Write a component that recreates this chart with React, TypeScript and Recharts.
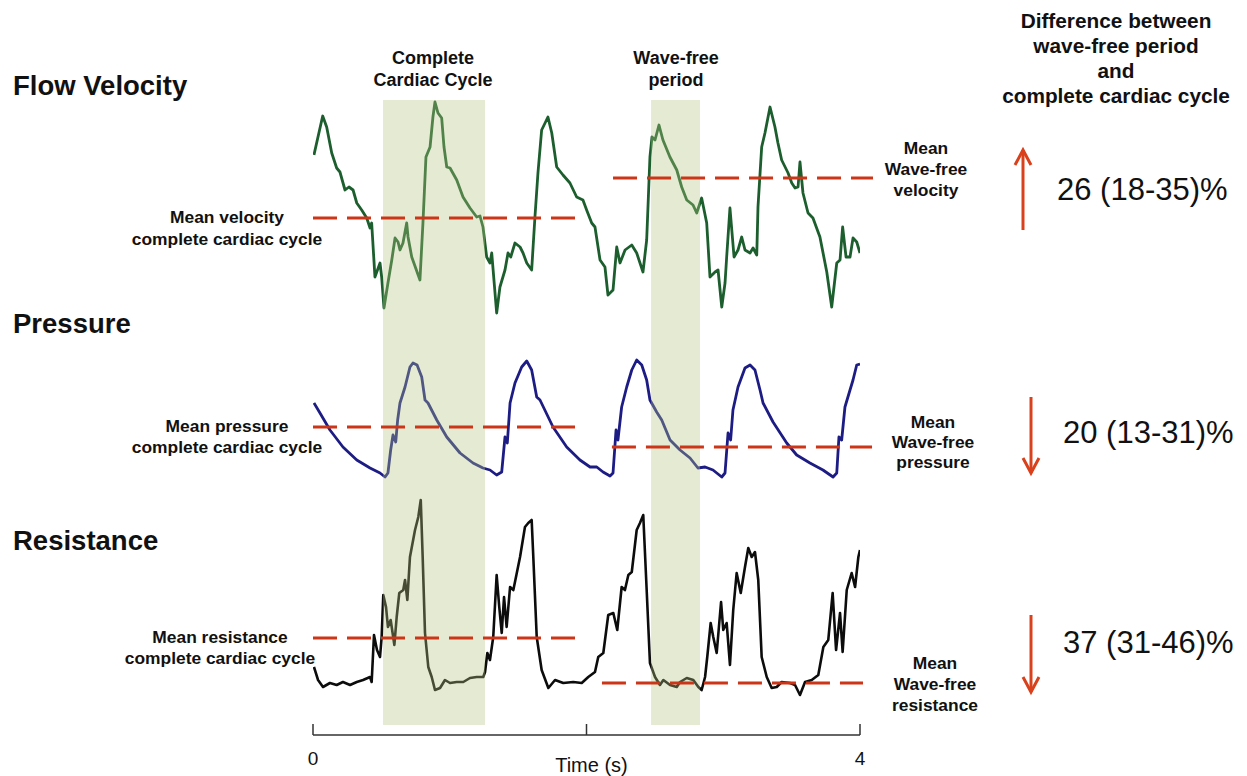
import React from 'react';
import { ComposedChart, Line, XAxis, YAxis, ReferenceArea, ReferenceLine } from 'recharts';

// Time axis (s)
const timeTicks = [0, 2, 4];
const timeTickLabels: Record<number, string> = { 0: '0', 2: '', 4: '4' };

// Flow velocity trace (a.u.)
const velocityData = [
  { t: 0.007, v: 165 }, { t: 0.071, v: 204 }, { t: 0.1, v: 193 }, { t: 0.137, v: 167 }, { t: 0.173, v: 152 },
  { t: 0.197, v: 148 }, { t: 0.234, v: 130 }, { t: 0.263, v: 133 }, { t: 0.293, v: 130 }, { t: 0.32, v: 117 },
  { t: 0.356, v: 110 }, { t: 0.393, v: 102 }, { t: 0.417, v: 92 }, { t: 0.429, v: 97 }, { t: 0.453, v: 43 },
  { t: 0.49, v: 57 }, { t: 0.502, v: 43 }, { t: 0.519, v: 12 }, { t: 0.548, v: 37 }, { t: 0.576, v: 60 },
  { t: 0.6, v: 82 }, { t: 0.622, v: 78 }, { t: 0.636, v: 70 }, { t: 0.658, v: 77 }, { t: 0.685, v: 97 },
  { t: 0.695, v: 83 }, { t: 0.722, v: 63 }, { t: 0.782, v: 40 }, { t: 0.804, v: 97 }, { t: 0.826, v: 163 },
  { t: 0.856, v: 173 }, { t: 0.877, v: 203 }, { t: 0.892, v: 218 }, { t: 0.914, v: 207 }, { t: 0.941, v: 202 },
  { t: 0.958, v: 173 }, { t: 0.978, v: 153 }, { t: 1.002, v: 152 }, { t: 1.051, v: 140 }, { t: 1.097, v: 123 },
  { t: 1.148, v: 112 }, { t: 1.197, v: 103 }, { t: 1.221, v: 104 }, { t: 1.243, v: 93 }, { t: 1.27, v: 63 },
  { t: 1.294, v: 57 }, { t: 1.307, v: 67 }, { t: 1.343, v: 7 }, { t: 1.367, v: 33 }, { t: 1.404, v: 50 },
  { t: 1.426, v: 67 }, { t: 1.446, v: 63 }, { t: 1.477, v: 77 }, { t: 1.514, v: 73 }, { t: 1.536, v: 67 },
  { t: 1.563, v: 57 }, { t: 1.599, v: 50 }, { t: 1.623, v: 103 }, { t: 1.645, v: 147 }, { t: 1.672, v: 190 },
  { t: 1.697, v: 197 }, { t: 1.718, v: 203 }, { t: 1.746, v: 187 }, { t: 1.782, v: 153 }, { t: 1.828, v: 145 },
  { t: 1.879, v: 137 }, { t: 1.928, v: 123 }, { t: 1.974, v: 120 }, { t: 2.001, v: 110 }, { t: 2.038, v: 97 },
  { t: 2.062, v: 93 }, { t: 2.099, v: 60 }, { t: 2.135, v: 53 }, { t: 2.157, v: 25 }, { t: 2.194, v: 30 },
  { t: 2.221, v: 73 }, { t: 2.245, v: 57 }, { t: 2.282, v: 70 }, { t: 2.331, v: 75 }, { t: 2.367, v: 67 },
  { t: 2.413, v: 48 }, { t: 2.44, v: 80 }, { t: 2.464, v: 163 }, { t: 2.479, v: 183 }, { t: 2.501, v: 180 },
  { t: 2.53, v: 195 }, { t: 2.559, v: 180 }, { t: 2.61, v: 163 }, { t: 2.66, v: 150 }, { t: 2.696, v: 133 },
  { t: 2.733, v: 120 }, { t: 2.779, v: 115 }, { t: 2.806, v: 107 }, { t: 2.842, v: 122 }, { t: 2.879, v: 97 },
  { t: 2.903, v: 43 }, { t: 2.94, v: 48 }, { t: 2.962, v: 50 }, { t: 2.989, v: 13 }, { t: 3.013, v: 37 },
  { t: 3.025, v: 63 }, { t: 3.049, v: 112 }, { t: 3.079, v: 63 }, { t: 3.108, v: 70 }, { t: 3.135, v: 83 },
  { t: 3.159, v: 70 }, { t: 3.196, v: 67 }, { t: 3.218, v: 72 }, { t: 3.245, v: 65 }, { t: 3.254, v: 113 },
  { t: 3.281, v: 173 }, { t: 3.305, v: 187 }, { t: 3.342, v: 213 }, { t: 3.378, v: 193 }, { t: 3.4, v: 177 },
  { t: 3.427, v: 160 }, { t: 3.474, v: 147 }, { t: 3.501, v: 137 }, { t: 3.525, v: 132 }, { t: 3.547, v: 133 },
  { t: 3.561, v: 158 }, { t: 3.583, v: 127 }, { t: 3.62, v: 107 }, { t: 3.656, v: 102 }, { t: 3.707, v: 83 },
  { t: 3.757, v: 48 }, { t: 3.793, v: 13 }, { t: 3.83, v: 57 }, { t: 3.854, v: 60 }, { t: 3.873, v: 93 },
  { t: 3.898, v: 63 }, { t: 3.927, v: 63 }, { t: 3.949, v: 82 }, { t: 3.976, v: 78 }, { t: 4.0, v: 67 },
];

// Pressure trace (a.u.)
const pressureData = [
  { t: 0.007, v: 77 }, { t: 0.051, v: 67 }, { t: 0.124, v: 50 }, { t: 0.219, v: 33 }, { t: 0.32, v: 20 },
  { t: 0.417, v: 12 }, { t: 0.49, v: 7 }, { t: 0.527, v: 3 }, { t: 0.548, v: 7 }, { t: 0.568, v: 30 },
  { t: 0.585, v: 45 }, { t: 0.605, v: 38 }, { t: 0.619, v: 60 }, { t: 0.636, v: 77 }, { t: 0.673, v: 93 },
  { t: 0.709, v: 113 }, { t: 0.731, v: 117 }, { t: 0.761, v: 115 }, { t: 0.795, v: 103 }, { t: 0.819, v: 80 },
  { t: 0.841, v: 77 }, { t: 0.905, v: 60 }, { t: 0.978, v: 43 }, { t: 1.075, v: 27 }, { t: 1.17, v: 17 },
  { t: 1.243, v: 12 }, { t: 1.294, v: 10 }, { t: 1.343, v: 5 }, { t: 1.38, v: 8 }, { t: 1.404, v: 43 },
  { t: 1.421, v: 37 }, { t: 1.441, v: 77 }, { t: 1.477, v: 97 }, { t: 1.526, v: 113 }, { t: 1.563, v: 119 },
  { t: 1.599, v: 110 }, { t: 1.636, v: 83 }, { t: 1.66, v: 80 }, { t: 1.755, v: 53 }, { t: 1.855, v: 33 },
  { t: 1.952, v: 20 }, { t: 2.026, v: 13 }, { t: 2.075, v: 13 }, { t: 2.121, v: 8 }, { t: 2.172, v: 4 },
  { t: 2.194, v: 7 }, { t: 2.216, v: 50 }, { t: 2.23, v: 40 }, { t: 2.257, v: 73 }, { t: 2.294, v: 93 },
  { t: 2.331, v: 110 }, { t: 2.367, v: 120 }, { t: 2.404, v: 115 }, { t: 2.44, v: 100 }, { t: 2.464, v: 80 },
  { t: 2.513, v: 68 }, { t: 2.55, v: 60 }, { t: 2.611, v: 40 }, { t: 2.684, v: 30 }, { t: 2.757, v: 22 },
  { t: 2.815, v: 12 }, { t: 2.867, v: 13 }, { t: 2.925, v: 10 }, { t: 2.989, v: 3 }, { t: 3.013, v: 7 },
  { t: 3.035, v: 47 }, { t: 3.054, v: 40 }, { t: 3.071, v: 70 }, { t: 3.108, v: 93 }, { t: 3.159, v: 112 },
  { t: 3.196, v: 115 }, { t: 3.232, v: 110 }, { t: 3.269, v: 90 }, { t: 3.291, v: 77 }, { t: 3.364, v: 58 },
  { t: 3.464, v: 37 }, { t: 3.537, v: 25 }, { t: 3.634, v: 17 }, { t: 3.729, v: 10 }, { t: 3.803, v: 3 },
  { t: 3.83, v: 7 }, { t: 3.846, v: 43 }, { t: 3.866, v: 40 }, { t: 3.89, v: 73 }, { t: 3.927, v: 90 },
  { t: 3.949, v: 100 }, { t: 3.976, v: 115 }, { t: 4.0, v: 116 },
];

// Resistance trace (a.u.)
const resistanceData = [
  { t: 0.007, v: 33 }, { t: 0.037, v: 20 }, { t: 0.073, v: 13 }, { t: 0.124, v: 17 }, { t: 0.173, v: 15 },
  { t: 0.219, v: 18 }, { t: 0.271, v: 15 }, { t: 0.32, v: 18 }, { t: 0.366, v: 20 }, { t: 0.417, v: 23 },
  { t: 0.429, v: 18 }, { t: 0.446, v: 65 }, { t: 0.468, v: 50 }, { t: 0.49, v: 43 }, { t: 0.502, v: 63 },
  { t: 0.514, v: 105 }, { t: 0.534, v: 93 }, { t: 0.548, v: 73 }, { t: 0.568, v: 80 }, { t: 0.595, v: 55 },
  { t: 0.612, v: 83 }, { t: 0.631, v: 107 }, { t: 0.66, v: 110 }, { t: 0.673, v: 120 }, { t: 0.69, v: 100 },
  { t: 0.709, v: 143 }, { t: 0.746, v: 170 }, { t: 0.77, v: 183 }, { t: 0.788, v: 200 }, { t: 0.802, v: 143 },
  { t: 0.819, v: 67 }, { t: 0.843, v: 33 }, { t: 0.868, v: 23 }, { t: 0.892, v: 10 }, { t: 0.929, v: 12 },
  { t: 0.965, v: 20 }, { t: 1.002, v: 17 }, { t: 1.051, v: 18 }, { t: 1.099, v: 18 }, { t: 1.148, v: 22 },
  { t: 1.197, v: 23 }, { t: 1.245, v: 23 }, { t: 1.258, v: 28 }, { t: 1.275, v: 47 }, { t: 1.294, v: 40 },
  { t: 1.318, v: 63 }, { t: 1.343, v: 125 }, { t: 1.362, v: 93 }, { t: 1.38, v: 67 }, { t: 1.397, v: 103 },
  { t: 1.416, v: 73 }, { t: 1.441, v: 113 }, { t: 1.465, v: 110 }, { t: 1.514, v: 143 }, { t: 1.55, v: 173 },
  { t: 1.574, v: 177 }, { t: 1.599, v: 180 }, { t: 1.611, v: 143 }, { t: 1.636, v: 63 }, { t: 1.672, v: 30 },
  { t: 1.721, v: 12 }, { t: 1.77, v: 20 }, { t: 1.83, v: 17 }, { t: 1.903, v: 18 }, { t: 1.965, v: 17 },
  { t: 2.013, v: 23 }, { t: 2.062, v: 28 }, { t: 2.086, v: 43 }, { t: 2.123, v: 47 }, { t: 2.159, v: 85 },
  { t: 2.196, v: 87 }, { t: 2.225, v: 70 }, { t: 2.257, v: 113 }, { t: 2.281, v: 110 }, { t: 2.306, v: 125 },
  { t: 2.331, v: 128 }, { t: 2.367, v: 170 }, { t: 2.391, v: 177 }, { t: 2.415, v: 185 }, { t: 2.44, v: 110 },
  { t: 2.464, v: 37 }, { t: 2.501, v: 23 }, { t: 2.537, v: 15 }, { t: 2.562, v: 20 }, { t: 2.611, v: 15 },
  { t: 2.66, v: 13 }, { t: 2.684, v: 18 }, { t: 2.733, v: 22 }, { t: 2.781, v: 20 }, { t: 2.818, v: 13 },
  { t: 2.842, v: 10 }, { t: 2.867, v: 23 }, { t: 2.883, v: 43 }, { t: 2.908, v: 77 }, { t: 2.927, v: 63 },
  { t: 2.952, v: 47 }, { t: 2.984, v: 98 }, { t: 3.0, v: 70 }, { t: 3.025, v: 77 }, { t: 3.049, v: 35 },
  { t: 3.073, v: 90 }, { t: 3.098, v: 127 }, { t: 3.128, v: 107 }, { t: 3.159, v: 133 }, { t: 3.183, v: 152 },
  { t: 3.208, v: 143 }, { t: 3.232, v: 148 }, { t: 3.256, v: 120 }, { t: 3.281, v: 43 }, { t: 3.318, v: 23 },
  { t: 3.354, v: 12 }, { t: 3.391, v: 13 }, { t: 3.427, v: 18 }, { t: 3.488, v: 17 }, { t: 3.525, v: 15 },
  { t: 3.561, v: 5 }, { t: 3.598, v: 18 }, { t: 3.647, v: 20 }, { t: 3.695, v: 25 }, { t: 3.732, v: 53 },
  { t: 3.768, v: 60 }, { t: 3.8, v: 107 }, { t: 3.825, v: 50 }, { t: 3.854, v: 87 }, { t: 3.873, v: 48 },
  { t: 3.903, v: 110 }, { t: 3.939, v: 127 }, { t: 3.964, v: 113 }, { t: 3.988, v: 143 }, { t: 4.0, v: 150 },
];

// Highlighted periods (s)
const completeCycle = [0.512, 1.258];
const waveFreePeriod = [2.472, 2.83];

// Mean levels: [value, tStart, tEnd]
const velocityMeans = { complete: [102, 0.0, 1.916], waveFree: [142, 2.194, 4.095] };
const pressureMeans = { complete: [53, 0.0, 1.989], waveFree: [33, 2.186, 4.088] };
const resistanceMeans = { complete: [62, 0.0, 1.916], waveFree: [17, 2.113, 4.022] };

// Differences (wave-free vs complete cardiac cycle)
const differences = ['26 (18-35)%', '20 (13-31)%', '37 (31-46)%'];

const FONT = '"Liberation Sans", Arial, Helvetica, sans-serif';
const RED = '#cc3517';
const ARROW = '#d9411d';

const TimeTick = (props: any) => {
  const { x, y, payload } = props;
  const label = timeTickLabels[payload.value] ?? '';
  return (
    <g>
      <line x1={x} x2={x} y1={y - 11} y2={y} stroke="#333" strokeWidth={1.5} />
      {label && (
        <text x={x} y={y + 30} textAnchor="middle" fontSize={19} fill="#111" fontFamily={FONT}>
          {label}
        </text>
      )}
    </g>
  );
};

const meanLine = (key: string, axis: string, m: number[]) => (
  <ReferenceLine
    key={key}
    xAxisId="x"
    yAxisId={axis}
    segment={[{ x: m[1], y: m[0] }, { x: m[2], y: m[0] }]}
    stroke={RED}
    strokeWidth={3}
    strokeDasharray="24 10"
    ifOverflow="visible"
    zIndex={1200}
  />
);

const Lines = ({ x, y, lines, size = 17.4, color = '#111', bold = true, gap = 21, anchor = 'middle' }: any) => (
  <text x={x} y={y} fontSize={size} fontWeight={bold ? 'bold' : 'normal'} fill={color} textAnchor={anchor} fontFamily={FONT}>
    {lines.map((l: string, i: number) => (
      <tspan key={i} x={x} y={y + i * gap}>{l}</tspan>
    ))}
  </text>
);

const Arrow = ({ x, y1, y2 }: { x: number; y1: number; y2: number }) => {
  const dir = y2 > y1 ? 1 : -1;
  return (
    <g stroke={ARROW} strokeWidth={3} fill="none" strokeLinecap="butt">
      <line x1={x} x2={x} y1={y1} y2={y2} />
      <polyline points={`${x - 8},${y2 - dir * 15} ${x},${y2} ${x + 8},${y2 - dir * 15}`} strokeLinejoin="miter" />
    </g>
  );
};

export default function App() {
  return (
    <div style={{ position: 'absolute', left: 0, top: 0, width: 1247, height: 776, background: '#fff', fontFamily: FONT }}>
      <ComposedChart width={1247} height={776} margin={{ top: 100, left: 313, right: 387, bottom: 0 }}>
        <XAxis
          xAxisId="x"
          dataKey="t"
          type="number"
          domain={[0, 4]}
          ticks={timeTicks}
          allowDataOverflow
          height={41}
          tickSize={0}
          tickMargin={0}
          tickLine={false}
          tick={<TimeTick />}
          axisLine={{ stroke: '#333', strokeWidth: 1.5 }}
          label={{ value: 'Time (s)', position: 'insideBottom', offset: 4, dx: 5, fontSize: 20, fill: '#111', fontFamily: FONT }}
        />
        <YAxis yAxisId="vel" type="number" domain={[-415, 220]} allowDataOverflow hide />
        <YAxis yAxisId="pres" type="number" domain={[-255, 380]} allowDataOverflow hide />
        <YAxis yAxisId="res" type="number" domain={[-35, 600]} allowDataOverflow hide />
        <YAxis yAxisId="frame" type="number" domain={[0, 635]} allowDataOverflow hide />

        <Line xAxisId="x" yAxisId="vel" data={velocityData} dataKey="v" type="linear" stroke="#1c5e2d" strokeWidth={2.8} dot={false} activeDot={false} isAnimationActive={false} strokeLinejoin="round" />
        <Line xAxisId="x" yAxisId="pres" data={pressureData} dataKey="v" type="linear" stroke="#1c1c84" strokeWidth={2.8} dot={false} activeDot={false} isAnimationActive={false} strokeLinejoin="round" />
        <Line xAxisId="x" yAxisId="res" data={resistanceData} dataKey="v" type="linear" stroke="#0c0c0c" strokeWidth={2.6} dot={false} activeDot={false} isAnimationActive={false} strokeLinejoin="round" />

        <ReferenceArea xAxisId="x" yAxisId="frame" x1={completeCycle[0]} x2={completeCycle[1]} y1={10} y2={635} fill="#b2c67e" fillOpacity={0.35} stroke="none" ifOverflow="visible" zIndex={1100} />
        <ReferenceArea xAxisId="x" yAxisId="frame" x1={waveFreePeriod[0]} x2={waveFreePeriod[1]} y1={10} y2={635} fill="#b2c67e" fillOpacity={0.35} stroke="none" ifOverflow="visible" zIndex={1100} />

        {meanLine('vc', 'vel', velocityMeans.complete)}
        {meanLine('vw', 'vel', velocityMeans.waveFree)}
        {meanLine('pc', 'pres', pressureMeans.complete)}
        {meanLine('pw', 'pres', pressureMeans.waveFree)}
        {meanLine('rc', 'res', resistanceMeans.complete)}
        {meanLine('rw', 'res', resistanceMeans.waveFree)}
      </ComposedChart>

      <svg width={1247} height={776} style={{ position: 'absolute', left: 0, top: 0, pointerEvents: 'none' }}>
        <text x={13} y={95} fontSize={27.5} fontWeight="bold" fill="#111" fontFamily={FONT}>Flow Velocity</text>
        <text x={13} y={333} fontSize={27.5} fontWeight="bold" fill="#111" fontFamily={FONT}>Pressure</text>
        <text x={13} y={550} fontSize={27.5} fontWeight="bold" fill="#111" fontFamily={FONT}>Resistance</text>

        <Lines x={433} y={64} lines={['Complete', 'Cardiac Cycle']} size={18} gap={22} />
        <Lines x={676} y={64} lines={['Wave-free', 'period']} size={18} gap={22} />

        <Lines x={1116} y={28} lines={['Difference between', 'wave-free period', 'and', 'complete cardiac cycle']} size={20.8} gap={25} />

        <Lines x={227} y={223} lines={['Mean velocity', 'complete cardiac cycle']} gap={22} />
        <Lines x={227} y={432} lines={['Mean pressure', 'complete cardiac cycle']} gap={21} />
        <Lines x={220} y={643} lines={['Mean resistance', 'complete cardiac cycle']} gap={21} />

        <Lines x={926} y={154} lines={['Mean', 'Wave-free', 'velocity']} gap={21} />
        <Lines x={933} y={428} lines={['Mean', 'Wave-free', 'pressure']} gap={20} />
        <Lines x={935} y={669} lines={['Mean', 'Wave-free', 'resistance']} gap={21} />

        <Arrow x={1023} y1={230} y2={150} />
        <Arrow x={1031} y1={397} y2={473} />
        <Arrow x={1031} y1={615} y2={692} />

        <text x={1057} y={200} fontSize={31} fill="#111" fontFamily={FONT}>{differences[0]}</text>
        <text x={1063} y={443} fontSize={31} fill="#111" fontFamily={FONT}>{differences[1]}</text>
        <text x={1063} y={653} fontSize={31} fill="#111" fontFamily={FONT}>{differences[2]}</text>
      </svg>
    </div>
  );
}
